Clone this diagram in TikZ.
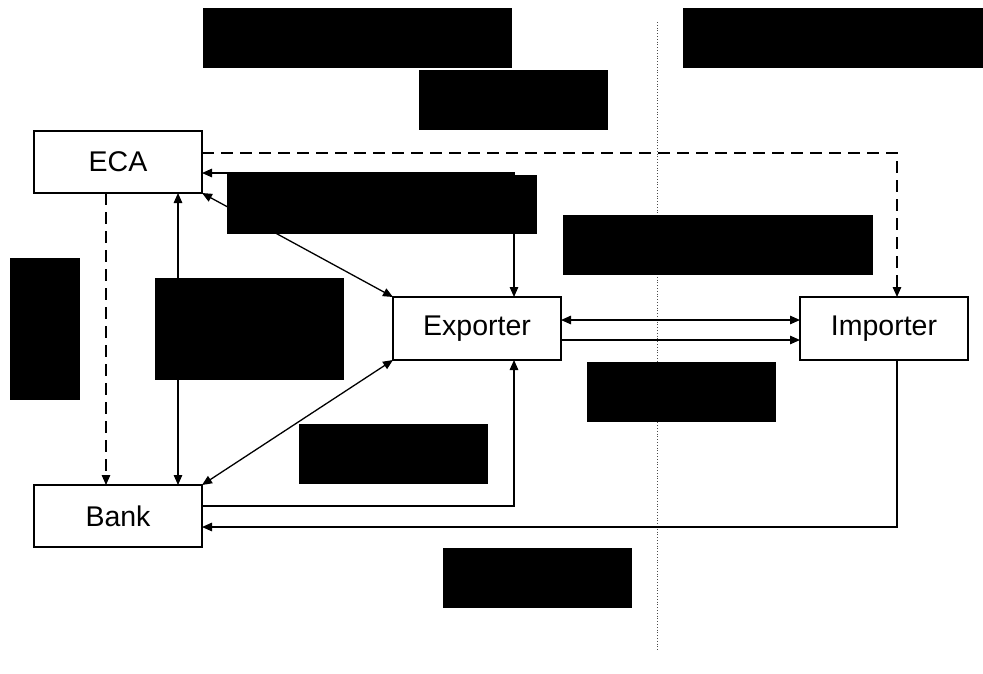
\documentclass[tikz,border=0pt]{standalone}
\usepackage{fontspec}
\setmainfont{Liberation Sans}
\usetikzlibrary{arrows.meta}
\begin{document}
\begin{tikzpicture}[x=1pt,y=-1pt,
  box/.style={draw, line width=1.3pt, fill=white, minimum width=168pt, minimum height=62pt, inner sep=0pt, outer sep=0pt, font=\fontsize{28.5}{32}\selectfont},
  conn/.style={line width=1.3pt},
  tip/.style={-{Triangle[length=10pt,width=8.5pt]}},
  tips/.style={{Triangle[length=10pt,width=8.5pt]}-{Triangle[length=10pt,width=8.5pt]}},
  dsh/.style={dash pattern=on 12pt off 7pt},
  redact/.style={fill=black}]
\useasboundingbox (0,0) rectangle (983,673);
% divider
\coordinate (dtop) at (657,22);
\coordinate (dbot) at (657,650);
\draw[dotted, line width=0.8pt, black!70] (dtop) -- (dbot);
% nodes
\node[box] (eca) at (118,162) {ECA};
\node[box, minimum height=63pt] (exporter) at (477,328.5) {Exporter};
\node[box, minimum height=63pt] (importer) at (884,328.5) {Importer};
\node[box] (bank) at (118,516) {Bank};
% connectors
\draw[conn, dsh, tip] ([yshift=9pt]eca.east) -| ([xshift=13pt]importer.north);
\draw[conn, tips] ([yshift=-11pt]eca.east) -| ([xshift=37pt]exporter.north);
\draw[conn, tips] (eca.south east) -- (exporter.north west);
\draw[conn, dsh, tip] ([xshift=-12pt]eca.south) -- ([xshift=-12pt]bank.north);
\draw[conn, tips] ([xshift=60pt]eca.south) -- ([xshift=60pt]bank.north);
\draw[conn, tips] (bank.north east) -- (exporter.south west);
\draw[conn, tip] ([yshift=10pt]bank.east) -| ([xshift=37pt]exporter.south);
\draw[conn, tip] ([xshift=13pt]importer.south) |- ([yshift=-11pt]bank.east);
\draw[conn, tips] ([yshift=8.5pt]exporter.east) -- ([yshift=8.5pt]importer.west);
\draw[conn, tip] ([yshift=-11.5pt]exporter.east) -- ([yshift=-11.5pt]importer.west);
% redaction boxes
\fill[redact] (203,8) rectangle (512,68);
\fill[redact] (683,8) rectangle (983,68);
\fill[redact] (419,70) rectangle (608,130);
\fill[redact] (227,172) rectangle (514,234);
\fill[redact] (500,175) rectangle (537,234);
\fill[redact] (10,258) rectangle (80,400);
\fill[redact] (155,278) rectangle (344,380);
\fill[redact] (563,215) rectangle (873,275);
\fill[redact] (587,362) rectangle (776,422);
\fill[redact] (299,424) rectangle (488,484);
\fill[redact] (443,548) rectangle (632,608);
\end{tikzpicture}
\end{document}
